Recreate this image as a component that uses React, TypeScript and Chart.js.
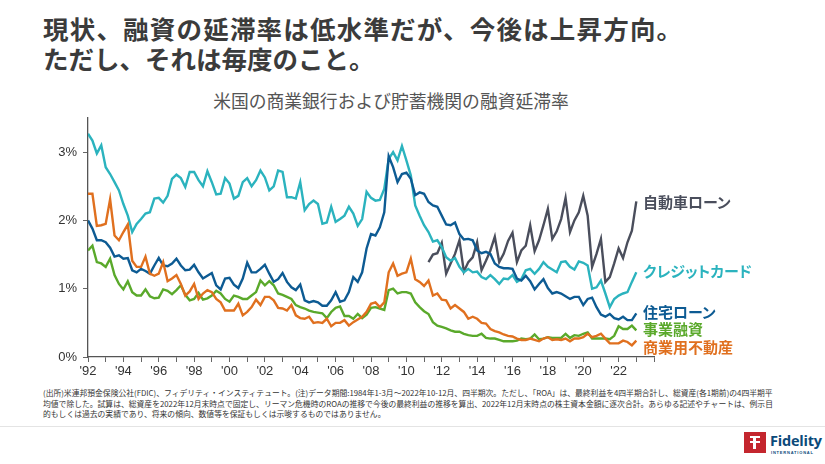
import React, { useEffect, useRef } from "react";
import { Chart, registerables } from "chart.js";

Chart.register(...registerables);

// ---- Data (quarterly, 1992 Q1 .. 2023 Q1), % delinquency ----
const START_YEAR = 1992;

const creditCard = [
  3.27, 3.17, 2.98, 3.1,
  2.78, 2.68, 2.56, 2.44,
  2.24, 2.07, 1.83, 1.95,
  2.02, 2.1, 2.12, 2.32,
  2.33, 2.26, 2.36, 2.61,
  2.67, 2.62, 2.49, 2.71,
  2.71, 2.59, 2.5, 2.72,
  2.56, 2.38, 2.39, 2.62,
  2.54, 2.32, 2.36, 2.56,
  2.62, 2.5, 2.59, 2.73,
  2.63, 2.44, 2.5, 2.73,
  2.71, 2.34, 2.34, 2.32,
  2.56, 2.15, 2.24, 2.29,
  2.24, 1.95, 1.97, 2.2,
  1.98, 2.02, 2.07, 2.2,
  2.1, 1.92, 2.02, 2.42,
  2.33, 2.29, 2.3, 2.46,
  2.9, 3.0, 2.88, 3.09,
  2.88, 2.66, 2.22, 2.07,
  1.93, 1.83, 1.69, 1.71,
  1.61, 1.46, 1.41, 1.45,
  1.32, 1.24, 1.29, 1.24,
  1.25, 1.17, 1.14, 1.2,
  1.14, 1.07, 1.15, 1.14,
  1.2, 1.1, 1.14, 1.27,
  1.29, 1.22, 1.29, 1.39,
  1.32, 1.28, 1.24, 1.39,
  1.4, 1.32, 1.28, 1.4,
  1.38, 1.34, 1.0, 1.02,
  1.12, 0.93, 0.73, 0.85,
  0.9, 0.93, 0.95, 1.1,
  1.24,
];

const residential = [
  2.0, 1.88, 1.71, 1.71,
  1.68, 1.6, 1.47, 1.49,
  1.44, 1.45, 1.27, 1.24,
  1.29, 1.26, 1.22, 1.34,
  1.45, 1.34, 1.33, 1.37,
  1.44, 1.34, 1.27, 1.28,
  1.35, 1.24, 1.15, 1.19,
  1.23, 1.05, 0.99, 1.15,
  1.16, 1.06, 1.01, 1.15,
  1.38, 1.24, 1.24, 1.29,
  1.35, 1.22, 1.1, 1.14,
  1.23, 1.1, 1.02, 0.98,
  1.06, 0.83, 0.8, 0.82,
  0.8, 0.75, 0.75, 0.83,
  0.95, 0.81, 0.83, 0.95,
  1.17, 1.1, 1.24, 1.59,
  1.8, 1.78, 1.9, 2.12,
  2.94, 2.78, 2.56, 2.68,
  2.7, 2.61, 2.37, 2.41,
  2.39, 2.27, 2.22, 2.2,
  2.07, 1.94, 1.93, 1.97,
  1.8, 1.72, 1.73, 1.71,
  1.56, 1.52, 1.54, 1.51,
  1.37, 1.32, 1.3, 1.3,
  1.29, 1.15, 1.12, 1.19,
  1.11, 0.99, 1.07, 1.14,
  1.01, 0.93, 0.95, 0.93,
  0.89, 0.85, 0.88, 0.88,
  0.76, 0.85, 0.87, 0.73,
  0.62, 0.59, 0.63, 0.57,
  0.55, 0.59, 0.54, 0.54,
  0.64,
];

const business = [
  1.56, 1.63, 1.39, 1.37,
  1.32, 1.44, 1.2, 1.07,
  0.99, 1.11, 0.95, 0.9,
  0.9, 0.99, 0.89, 0.86,
  0.87, 0.99, 0.97, 0.92,
  0.98, 1.05, 0.91, 0.83,
  0.85, 0.94, 0.84, 0.86,
  0.9, 0.97, 0.93, 0.85,
  0.81, 0.9, 0.88, 0.85,
  0.85, 0.9, 0.95, 1.12,
  1.05, 1.11, 1.05, 0.93,
  0.91, 0.88, 0.85, 0.76,
  0.73, 0.71, 0.68, 0.66,
  0.65, 0.64, 0.57, 0.66,
  0.72, 0.74, 0.6, 0.6,
  0.56, 0.63, 0.57, 0.62,
  0.72, 0.73, 0.71, 0.69,
  0.98, 1.0, 0.93, 0.95,
  0.95, 0.93, 0.8, 0.73,
  0.67, 0.63, 0.51, 0.46,
  0.44, 0.42, 0.39, 0.37,
  0.37, 0.34, 0.32, 0.31,
  0.31, 0.34, 0.28, 0.27,
  0.27, 0.25, 0.23, 0.23,
  0.23, 0.24, 0.27, 0.26,
  0.27, 0.33, 0.26, 0.27,
  0.29, 0.28, 0.28, 0.28,
  0.34, 0.28, 0.32, 0.31,
  0.34, 0.36, 0.27, 0.27,
  0.27, 0.27, 0.26, 0.31,
  0.45, 0.41, 0.41, 0.46,
  0.39,
];

const commercialRealEstate = [
  2.39, 2.39, 1.92, 1.93,
  1.95, 2.31, 1.78, 1.71,
  1.83, 1.94, 1.41, 1.32,
  1.32, 1.47, 1.22, 1.19,
  1.22, 1.39, 1.11, 1.15,
  1.2, 1.07, 0.9, 0.96,
  1.07, 0.85, 0.93, 0.98,
  0.95, 0.85, 0.8, 0.68,
  0.68, 0.68, 0.78, 0.61,
  0.66, 0.73, 0.84, 0.76,
  0.88, 0.88, 0.83, 0.72,
  0.71, 0.68, 0.76, 0.61,
  0.57, 0.56, 0.59, 0.5,
  0.51, 0.5, 0.56, 0.45,
  0.5, 0.5, 0.54, 0.46,
  0.51, 0.55, 0.59, 0.66,
  0.78, 0.8, 0.73, 0.8,
  1.24, 1.37, 1.19, 1.22,
  1.24, 1.44, 1.14, 1.1,
  1.04, 1.12, 0.9, 0.93,
  0.84, 0.83, 0.71, 0.76,
  0.71, 0.66, 0.56, 0.59,
  0.56, 0.5, 0.49, 0.41,
  0.38, 0.36, 0.33, 0.31,
  0.3, 0.27, 0.25, 0.25,
  0.27, 0.25, 0.23, 0.27,
  0.29, 0.25, 0.26, 0.25,
  0.27, 0.23, 0.27, 0.27,
  0.29, 0.34, 0.29, 0.31,
  0.34, 0.27, 0.2, 0.2,
  0.2, 0.24, 0.22, 0.17,
  0.24,
];

// Auto loans start in 2011 Q2
const AUTO_START_YEAR = 2011.25;
const autoLoan = [
  1.39, 1.5, 1.52,
  1.67, 1.22, 1.37, 1.51,
  1.71, 1.25, 1.39, 1.46,
  1.68, 1.27, 1.41, 1.56,
  1.76, 1.39, 1.51, 1.7,
  1.82, 1.39, 1.56, 1.63,
  1.93, 1.55, 1.71, 1.93,
  2.17, 1.73, 1.84, 2.02,
  2.33, 1.83, 2.0, 2.12,
  2.36, 2.07, 1.32, 1.51,
  1.73, 1.1, 1.17, 1.37,
  1.59, 1.45, 1.68, 1.85,
  2.28,
];

const xTickYears = Array.from({ length: 33 }, (_, i) => 1992 + i);
const xLabelYears = Array.from({ length: 16 }, (_, i) => 1992 + i * 2);
const yTickValues = [0, 1, 2, 3];

const TITLE_LINES = [
  "現状、融資の延滞率は低水準だが、今後は上昇方向。",
  "ただし、それは毎度のこと。",
];
const CHART_TITLE = "米国の商業銀行および貯蓄機関の融資延滞率";
const FOOTNOTE_LINES = [
  "(出所)米連邦預金保険公社(FDIC)、フィデリティ・インスティテュート。(注)データ期間:1984年1-3月～2022年10-12月、四半期次。ただし、「ROA」は、最終利益を4四半期合計し、総資産(各1期前)の4四半期平",
  "均値で除した。試算は、総資産を2022年12月末時点で固定し、リーマン危機時のROAの推移で今後の最終利益の推移を算出、2022年12月末時点の株主資本金額に逐次合計。あらゆる記述やチャートは、例示目",
  "的もしくは過去の実績であり、将来の傾向、数値等を保証もしくは示唆するものではありません。",
];

const COLORS = {
  auto: "#4a4e5c",
  card: "#2bb3be",
  resi: "#0d5b93",
  biz: "#5aa92b",
  cre: "#e0701f",
};

const SERIES_LABELS = [
  { text: "自動車ローン", color: COLORS.auto, top: 202 },
  { text: "クレジットカード", color: COLORS.card, top: 271 },
  { text: "住宅ローン", color: COLORS.resi, top: 312 },
  { text: "事業融資", color: COLORS.biz, top: 329 },
  { text: "商業用不動産", color: COLORS.cre, top: 347 },
];

const toPoints = (arr: number[], start: number) =>
  arr.map((v, i) => ({ x: start + i / 4, y: v }));

const TICK_FONT = "'Liberation Sans', Arial, sans-serif";
const JP_FONT = "'Noto Sans CJK JP', 'Noto Sans', sans-serif";

export default function App() {
  const ref = useRef<HTMLCanvasElement | null>(null);

  useEffect(() => {
    if (!ref.current) return;
    const ds = (label: string, data: number[], start: number, color: string) => ({
      label,
      data: toPoints(data, start),
      borderColor: color,
      backgroundColor: color,
      borderWidth: 2.4,
      pointRadius: 0,
      tension: 0,
      fill: false,
    });
    const chart = new Chart(ref.current, {
      type: "line",
      data: {
        datasets: [
          ds("商業用不動産", commercialRealEstate, START_YEAR, COLORS.cre),
          ds("事業融資", business, START_YEAR, COLORS.biz),
          ds("住宅ローン", residential, START_YEAR, COLORS.resi),
          ds("クレジットカード", creditCard, START_YEAR, COLORS.card),
          ds("自動車ローン", autoLoan, AUTO_START_YEAR, COLORS.auto),
        ],
      },
      options: {
        animation: false,
        responsive: false,
        maintainAspectRatio: false,
        layout: { padding: { left: 0, right: 171, top: 38, bottom: 0 } },
        plugins: {
          legend: { display: false },
          tooltip: { enabled: false },
          title: { display: false },
        },
        scales: {
          x: {
            type: "linear",
            min: 1992,
            max: 2024,
            afterBuildTicks: (s: any) => {
              s.ticks = xTickYears.map((v) => ({ value: v }));
            },
            afterFit: (s: any) => {
              s.height = 23;
            },
            ticks: {
              autoSkip: false,
              maxRotation: 0,
              minRotation: 0,
              padding: 2,
              color: "#333",
              font: { family: TICK_FONT, size: 13 },
              callback: (v: any) =>
                xLabelYears.includes(Number(v))
                  ? "'" + String(Number(v)).slice(2)
                  : "",
            },
            grid: {
              drawOnChartArea: false,
              drawTicks: true,
              tickLength: 5,
              color: "#666",
              lineWidth: 1,
            },
            border: { display: true, color: "#555", width: 1.3 },
          },
          y: {
            type: "linear",
            min: 0,
            max: 3.5,
            afterBuildTicks: (s: any) => {
              s.ticks = yTickValues.map((v) => ({ value: v }));
            },
            afterFit: (s: any) => {
              s.width = 88;
            },
            ticks: {
              padding: 6,
              color: "#333",
              font: { family: TICK_FONT, size: 13 },
              callback: (v: any) => v + "%",
            },
            grid: {
              drawOnChartArea: false,
              drawTicks: true,
              tickLength: 5,
              color: "#666",
            },
            border: { display: true, color: "#555", width: 1.3 },
          },
        },
      },
    } as any);
    return () => chart.destroy();
  }, []);

  return (
    <div
      style={{
        position: "fixed",
        left: 0,
        top: 0,
        width: 825,
        height: 464,
        background: "#fff",
        overflow: "hidden",
        fontFamily: JP_FONT,
      }}
    >
      <div
        style={{
          position: "absolute",
          left: 43,
          top: 13,
          fontSize: 25.5,
          lineHeight: "30px",
          fontWeight: 700,
          color: "#3b3b3b",
          whiteSpace: "nowrap",
        }}
      >
        {TITLE_LINES.map((t, i) => (
          <div key={i} style={{ letterSpacing: i === 0 ? 1.2 : 0 }}>
            {t}
          </div>
        ))}
      </div>
      <div
        style={{
          position: "absolute",
          left: 0,
          width: 782,
          top: 89,
          textAlign: "center",
          fontSize: 17.8,
          lineHeight: "22px",
          color: "#555",
          whiteSpace: "nowrap",
        }}
      >
        {CHART_TITLE}
      </div>
      <canvas
        ref={ref}
        width={825}
        height={300}
        style={{ position: "absolute", left: 0, top: 80, width: 825, height: 300 }}
      />
      {SERIES_LABELS.map((l, i) => (
        <div
          key={i}
          style={{
            position: "absolute",
            left: 643,
            top: l.top - 11,
            fontSize: 15,
            lineHeight: "22px",
            fontWeight: 700,
            color: l.color,
            whiteSpace: "nowrap",
            fontFeatureSettings: "'palt'",
          }}
        >
          {l.text}
        </div>
      ))}
      <div
        style={{
          position: "absolute",
          left: 43,
          top: 388,
          fontSize: 7.8,
          lineHeight: "10.5px",
          color: "#333",
          whiteSpace: "nowrap",
        }}
      >
        {FOOTNOTE_LINES.map((t, i) => (
          <div key={i}>{t}</div>
        ))}
      </div>
      <div
        style={{
          position: "absolute",
          left: 0,
          top: 426,
          width: 825,
          height: 1,
          background: "#e4e4e4",
        }}
      />
      <div
        style={{
          position: "absolute",
          left: 744,
          top: 432,
          width: 22,
          height: 21,
          background: "#c4262e",
        }}
      >
        <div style={{ position: "absolute", left: 6, top: 4, width: 10, height: 2, background: "#fff" }} />
        <div style={{ position: "absolute", left: 6, top: 9, width: 10, height: 2, background: "#fff" }} />
        <div style={{ position: "absolute", left: 9, top: 4, width: 3, height: 13, background: "#fff" }} />
      </div>
      <div
        style={{
          position: "absolute",
          left: 770,
          top: 432,
          fontFamily: "'Open Sans', 'Liberation Sans', sans-serif",
          fontWeight: 700,
          fontSize: 14.5,
          lineHeight: "17px",
          color: "#0b4a7a",
          letterSpacing: -0.2,
        }}
      >
        Fidelity
      </div>
      <div
        style={{
          position: "absolute",
          left: 771,
          top: 450,
          fontFamily: "'Liberation Sans', sans-serif",
          fontWeight: 700,
          fontSize: 4,
          lineHeight: "5px",
          letterSpacing: 0.8,
          color: "#0b4a7a",
        }}
      >
        INTERNATIONAL
      </div>
    </div>
  );
}
